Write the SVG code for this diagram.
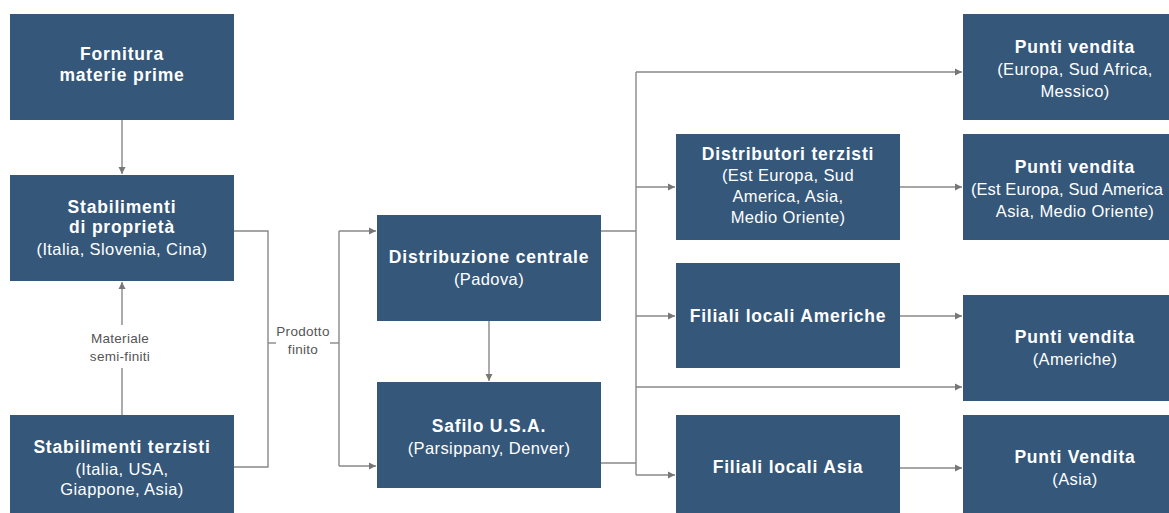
<svg xmlns="http://www.w3.org/2000/svg" width="1169" height="513" viewBox="0 0 1169 513">
<style>
.box{fill:#34577a}
.t{font-family:"Liberation Sans",Arial,sans-serif;fill:#ffffff;text-anchor:middle}
.b{font-weight:bold;font-size:17.5px;letter-spacing:0.8px}
.r{font-size:16.5px;letter-spacing:0.4px}
.lbl{font-family:"Liberation Sans",Arial,sans-serif;fill:#555;font-size:13.5px;letter-spacing:0.3px;text-anchor:middle}
.c{fill:none;stroke:#888;stroke-width:1.4}
</style>
<defs>
<marker id="ah" markerWidth="8" markerHeight="8" refX="7" refY="4" orient="auto" markerUnits="userSpaceOnUse">
<path d="M0,0.5 L7,4 L0,7.5 z" fill="#777"/>
</marker>
</defs>
<rect width="1169" height="513" fill="#ffffff"/>
<g id="connectors">
<line class="c" x1="122" y1="120" x2="122" y2="174" marker-end="url(#ah)"/>
<line class="c" x1="122" y1="415" x2="122" y2="368"/>
<line class="c" x1="122" y1="325" x2="122" y2="282" marker-end="url(#ah)"/>
<polyline class="c" points="234,231 268,231 268,467 234,467"/>
<line class="c" x1="268" y1="343" x2="276" y2="343"/>
<line class="c" x1="330" y1="343" x2="339" y2="343"/>
<line class="c" x1="339" y1="231" x2="339" y2="466"/>
<line class="c" x1="339" y1="231" x2="376" y2="231" marker-end="url(#ah)"/>
<line class="c" x1="339" y1="466" x2="376" y2="466" marker-end="url(#ah)"/>
<line class="c" x1="489" y1="321" x2="489" y2="381" marker-end="url(#ah)"/>
<line class="c" x1="601" y1="231" x2="636" y2="231"/>
<line class="c" x1="601" y1="463" x2="636" y2="463"/>
<line class="c" x1="636" y1="72" x2="636" y2="475"/>
<line class="c" x1="636" y1="72" x2="962" y2="72" marker-end="url(#ah)"/>
<line class="c" x1="636" y1="187" x2="675" y2="187" marker-end="url(#ah)"/>
<line class="c" x1="636" y1="316" x2="675" y2="316" marker-end="url(#ah)"/>
<line class="c" x1="636" y1="387" x2="962" y2="387" marker-end="url(#ah)"/>
<line class="c" x1="636" y1="475" x2="675" y2="475" marker-end="url(#ah)"/>
<line class="c" x1="900" y1="187" x2="962" y2="187" marker-end="url(#ah)"/>
<line class="c" x1="900" y1="316" x2="962" y2="316" marker-end="url(#ah)"/>
<line class="c" x1="900" y1="468" x2="962" y2="468" marker-end="url(#ah)"/>
<text class="lbl" x="120" y="343">Materiale</text>
<text class="lbl" x="120" y="361">semi-finiti</text>
<text class="lbl" x="303" y="336">Prodotto</text>
<text class="lbl" x="303" y="354">finito</text>
</g>
<g id="fornitura">
<rect class="box" x="10" y="14" width="224" height="106"/>
<text class="t b" x="122" y="60">Fornitura</text>
<text class="t b" x="122" y="81">materie prime</text>
</g>
<g id="stab-proprieta">
<rect class="box" x="10" y="175" width="224" height="106"/>
<text class="t b" x="122" y="213">Stabilimenti</text>
<text class="t b" x="122" y="233">di proprietà</text>
<text class="t r" x="122" y="255">(Italia, Slovenia, Cina)</text>
</g>
<g id="stab-terzisti">
<rect class="box" x="10" y="415" width="224" height="106"/>
<text class="t b" x="122" y="453">Stabilimenti terzisti</text>
<text class="t r" x="122" y="475">(Italia, USA,</text>
<text class="t r" x="122" y="495">Giappone, Asia)</text>
</g>
<g id="distribuzione">
<rect class="box" x="377" y="215" width="224" height="106"/>
<text class="t b" x="489" y="263">Distribuzione centrale</text>
<text class="t r" x="489" y="285">(Padova)</text>
</g>
<g id="safilo-usa">
<rect class="box" x="377" y="382" width="224" height="106"/>
<text class="t b" x="489" y="432">Safilo U.S.A.</text>
<text class="t r" x="489" y="454">(Parsippany, Denver)</text>
</g>
<g id="distributori-terzisti">
<rect class="box" x="676" y="134" width="224" height="106"/>
<text class="t b" x="788" y="160">Distributori terzisti</text>
<text class="t r" x="788" y="181">(Est Europa, Sud</text>
<text class="t r" x="788" y="202">America, Asia,</text>
<text class="t r" x="788" y="223">Medio Oriente)</text>
</g>
<g id="filiali-americhe">
<rect class="box" x="676" y="263" width="224" height="105"/>
<text class="t b" x="788" y="322">Filiali locali Americhe</text>
</g>
<g id="filiali-asia">
<rect class="box" x="676" y="415" width="224" height="106"/>
<text class="t b" x="788" y="473">Filiali locali Asia</text>
</g>
<g id="punti-1">
<rect class="box" x="963" y="14" width="224" height="106"/>
<text class="t b" x="1075" y="53">Punti vendita</text>
<text class="t r" x="1075" y="75">(Europa, Sud Africa,</text>
<text class="t r" x="1075" y="97">Messico)</text>
</g>
<g id="punti-2">
<rect class="box" x="963" y="134" width="224" height="106"/>
<text class="t b" x="1075" y="173">Punti vendita</text>
<text class="t r" x="1067" y="195" style="letter-spacing:0.1px">(Est Europa, Sud America</text>
<text class="t r" x="1075" y="217">Asia, Medio Oriente)</text>
</g>
<g id="punti-3">
<rect class="box" x="963" y="295" width="224" height="106"/>
<text class="t b" x="1075" y="343">Punti vendita</text>
<text class="t r" x="1075" y="365">(Americhe)</text>
</g>
<g id="punti-4">
<rect class="box" x="963" y="415" width="224" height="106"/>
<text class="t b" x="1075" y="463">Punti Vendita</text>
<text class="t r" x="1075" y="485">(Asia)</text>
</g>
</svg>
